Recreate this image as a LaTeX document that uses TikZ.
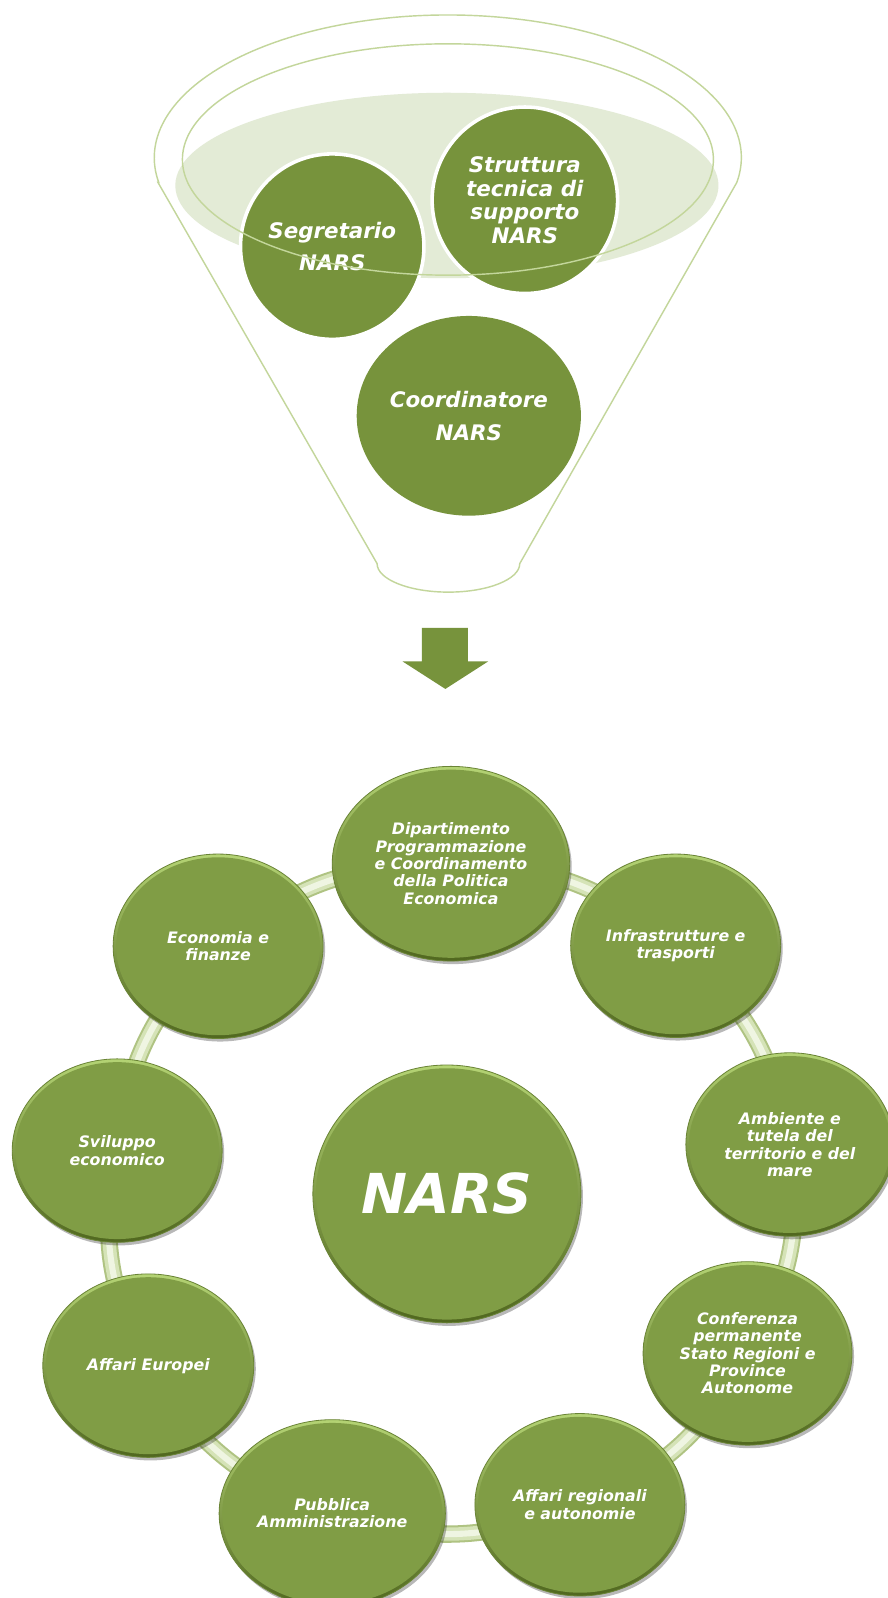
\documentclass[tikz,border=0pt]{standalone}
\usepackage{fontspec}
\setmainfont{DejaVu Sans}
\usetikzlibrary{shapes.geometric,shadows,calc}
\pgfdeclarelayer{background}
\pgfsetlayers{background,main}
\definecolor{nrsOlive}{HTML}{77933C}
\definecolor{nrsRim}{HTML}{C3D69B}
\definecolor{nrsPale}{HTML}{E3EBD6}
\definecolor{nrsFace}{HTML}{809D45}
\definecolor{nrsLight}{HTML}{B4D374}
\definecolor{nrsDark}{HTML}{50671F}
\definecolor{nrsEdge}{HTML}{6A8436}
\definecolor{nrsRingEdge}{HTML}{AFC382}
\definecolor{nrsRingMid}{HTML}{D5E3B7}
\definecolor{nrsRingCore}{HTML}{EFF5E2}
\begin{document}
\begin{tikzpicture}[x=1pt,y=-1pt,
  rimline/.style={draw=nrsRim, line width=1.4pt},
  topball/.style={ellipse, inner sep=0pt, fill=nrsOlive, draw=white, line width=3.5pt,
    text=white, align=center, font=\fontsize{21}{32}\selectfont\bfseries\itshape},
  ball/.style={ellipse, inner sep=0pt,
    top color=nrsLight, middle color=nrsFace, bottom color=nrsDark,
    draw=nrsEdge, line width=0.8pt,
    path picture={
      \fill[nrsFace] let \p1=($(path picture bounding box.north east)-(path picture bounding box.center)$)
        in (path picture bounding box.center) ellipse [x radius=\x1-3pt, y radius=\y1-3.2pt];},
    text=white, align=center, font=\fontsize{15.5}{17}\selectfont\bfseries\itshape,
    drop shadow={shadow xshift=2pt, shadow yshift=-3pt, opacity=0.28, fill=black}},
  ring/.style={draw=nrsRingCore, line width=6pt,
    preaction={draw=nrsRingEdge, line width=17pt},
    preaction={draw=nrsRingMid, line width=13pt}}
]
\useasboundingbox (0,0) rectangle (871,1568);
\begin{pgfonlayer}{background}
  \fill[white] (0,0) rectangle (871,1568);
\end{pgfonlayer}

% funnel
\fill[nrsPale] (438.5,182) ellipse [x radius=266.5, y radius=91];
\draw[rimline] (155,179) -- (370,553)
  arc[start angle=180, end angle=0, x radius=70, y radius=28] -- (723,179)
  arc[start angle=10, end angle=-190, x radius=288, y radius=140] -- cycle;

\node[topball, minimum width=180pt, minimum height=182pt] (seg) at (326,242) {Segretario\\NARS};
\node[topball, minimum width=182pt, minimum height=183pt, font=\fontsize{21}{23}\selectfont\bfseries\itshape] (str) at (515,196.5) {Struttura\\tecnica di\\supporto\\NARS};
\node[topball, draw=none, minimum width=220pt, minimum height=196pt] (coo) at (460,408) {Coordinatore\\NARS};

\draw[rimline] (439.5,156.5) ellipse [x radius=260.5, y radius=113.5];

% arrow
\fill[nrsOlive] (414,616) -- (459,616) -- (459,649) -- (479,649) -- (437,676)
  -- (395,649) -- (414,649) -- cycle;

% cycle of bodies
\node[ball, minimum width=233pt, minimum height=191pt] (dip) at (442.5,847.5) {Dipartimento\\Programmazione\\e Coordinamento\\della Politica\\Economica};
\node[ball, minimum width=206pt, minimum height=180pt] (inf) at (663,928) {Infrastrutture e\\trasporti};
\node[ball, minimum width=204pt, minimum height=180pt] (amb) at (775,1123) {Ambiente e\\tutela del\\territorio e del\\mare};
\node[ball, minimum width=205pt, minimum height=180pt] (conf) at (733.5,1328) {Conferenza\\permanente\\Stato Regioni e\\Province\\Autonome};
\node[ball, minimum width=206pt, minimum height=179pt] (areg) at (569,1476.5) {Affari regionali\\e autonomie};
\node[ball, minimum width=222pt, minimum height=184pt] (pa) at (326,1485) {Pubblica\\Amministrazione};
\node[ball, minimum width=207pt, minimum height=180pt] (eur) at (145.5,1340) {Affari Europei};
\node[ball, minimum width=206pt, minimum height=180pt] (svil) at (115,1129) {Sviluppo\\economico};
\node[ball, minimum width=206pt, minimum height=181pt] (eco) at (214,928.5) {Economia e\\finanze};
\node[ball, minimum width=263pt, minimum height=253pt, font=\fontsize{54}{60}\selectfont\bfseries\itshape] (nars) at (438.5,1171.5) {NARS};

\begin{pgfonlayer}{background}
  \foreach \a/\b in {dip/inf, inf/amb, amb/conf, conf/areg, areg/pa, pa/eur, eur/svil, svil/eco, eco/dip}
    \draw[ring] (\a.center) to[bend left=20] (\b.center);
\end{pgfonlayer}
\end{tikzpicture}
\end{document}
